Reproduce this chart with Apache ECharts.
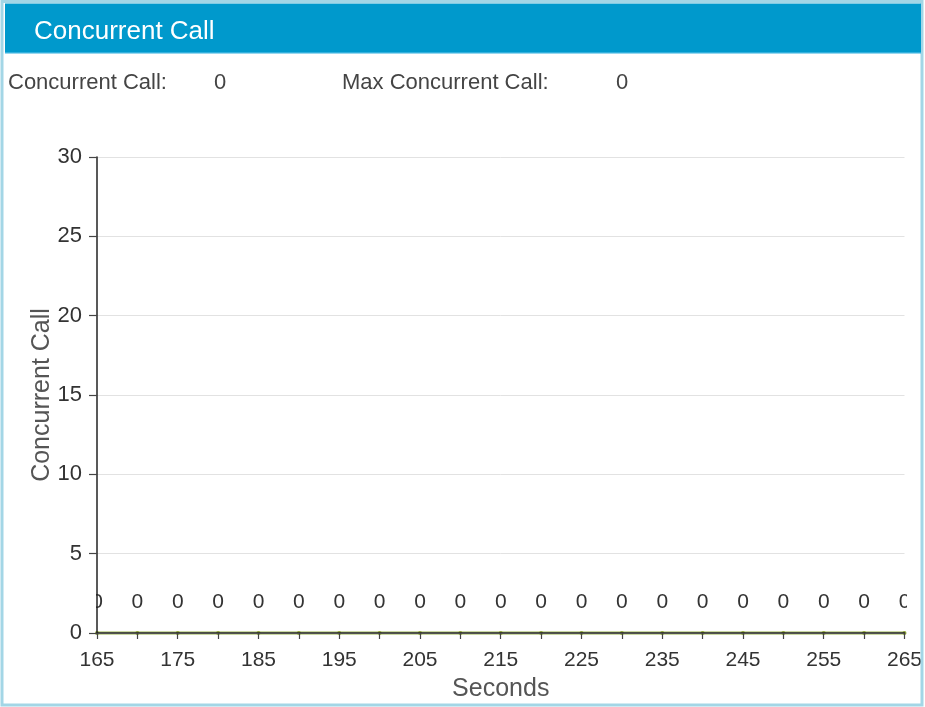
<!DOCTYPE html>
<html>
<head>
<meta charset="utf-8">
<script src="https://cdn.jsdelivr.net/npm/echarts@6/dist/echarts.min.js"></script>
<style>
html,body{margin:0;padding:0;background:#fff;}
#chart{width:925px;height:707px;}
</style>
</head>
<body>
<div id="chart"></div>
<script>
var headerTitle = 'Concurrent Call';
var infoLabels = ['Concurrent Call:', 'Max Concurrent Call:'];
var infoValues = ['0', '0'];
var seconds = [165, 170, 175, 180, 185, 190, 195, 200, 205, 210, 215, 220, 225, 230, 235, 240, 245, 250, 255, 260, 265];
var calls   = [0, 0, 0, 0, 0, 0, 0, 0, 0, 0, 0, 0, 0, 0, 0, 0, 0, 0, 0, 0, 0];
var yTicks = [0, 5, 10, 15, 20, 25, 30];
var xLabelTicks = [165, 175, 185, 195, 205, 215, 225, 235, 245, 255, 265];

var FONT = '"Liberation Sans", Arial, sans-serif';
var chart = echarts.init(document.getElementById('chart'));

var pts = seconds.map(function (s, i) { return [s, calls[i]]; });

chart.setOption({
  animation: false,
  backgroundColor: '#fff',
  textStyle: { fontFamily: FONT },
  grid: { left: 97, right: 19, top: 157, bottom: 73, containLabel: false },
  xAxis: {
    type: 'value',
    z: 6,
    min: seconds[0],
    max: seconds[seconds.length - 1],
    interval: 5,
    name: 'Seconds',
    nameLocation: 'middle',
    nameGap: 44,
    nameMoveOverlap: false,
    nameTextStyle: { fontSize: 25, color: '#555', fontFamily: FONT },
    axisLine: { show: true, onZero: false, lineStyle: { color: '#222', width: 1.5 } },
    axisTick: { show: true, length: 6, lineStyle: { color: '#444', width: 1.2 } },
    axisLabel: {
      margin: 17, fontSize: 21, color: '#333', fontFamily: FONT,
      formatter: function (v) { return xLabelTicks.indexOf(v) >= 0 ? String(v) : ''; }
    },
    splitLine: { show: false }
  },
  yAxis: {
    type: 'value',
    z: 6,
    min: yTicks[0],
    max: yTicks[yTicks.length - 1],
    interval: 5,
    name: 'Concurrent Call',
    nameLocation: 'middle',
    nameGap: 42,
    nameMoveOverlap: false,
    nameTextStyle: { fontSize: 25, color: '#555', fontFamily: FONT },
    axisLine: { show: true, lineStyle: { color: '#222', width: 1.5 } },
    axisTick: { show: true, length: 8, lineStyle: { color: '#444', width: 1.2 } },
    axisLabel: { margin: 15, fontSize: 22, color: '#333', fontFamily: FONT },
    splitLine: { show: true, lineStyle: { color: '#e2e2e2', width: 1 } }
  },
  series: [{
    type: 'line',
    data: pts,
    clip: true,
    z: 3,
    lineStyle: { color: '#cbd9a3', width: 4 },
    symbol: 'circle',
    symbolSize: 4,
    itemStyle: { color: '#8fa33a' },
    label: {
      show: true, position: 'top', distance: 18,
      fontSize: 21, color: '#333', fontFamily: FONT,
      formatter: function (p) { return String(p.value[1]); }
    }
  }],
  graphic: [
    // clip edge labels like the grid does
    { type: 'rect', z: 4, shape: { x: 80, y: 586, width: 16, height: 32 }, style: { fill: '#fff' } },
    { type: 'rect', z: 4, shape: { x: 907, y: 586, width: 13.5, height: 32 }, style: { fill: '#fff' } },
    // frame
    { type: 'rect', z: 101, shape: { x: 2, y: 1.5, width: 920, height: 703.5 }, style: { fill: 'none', stroke: '#a3d6e6', lineWidth: 3 } },
    // header
    { type: 'rect', z: 102, shape: { x: 5, y: 3.5, width: 916, height: 49.5 }, style: { fill: '#0099cc' } },
    { type: 'rect', z: 102, shape: { x: 5, y: 52, width: 916, height: 1.5 }, style: { fill: '#33b0dd' } },
    { type: 'text', z: 103, left: 34, top: 19, style: { text: headerTitle, fill: '#ffffff', font: '26px ' + FONT } },
    { type: 'text', z: 103, left: 8, top: 72, style: { text: infoLabels[0], fill: '#444', font: '22px ' + FONT } },
    { type: 'text', z: 103, left: 214, top: 72, style: { text: infoValues[0], fill: '#444', font: '22px ' + FONT } },
    { type: 'text', z: 103, left: 342, top: 72, style: { text: infoLabels[1], fill: '#444', font: '22px ' + FONT } },
    { type: 'text', z: 103, left: 616, top: 72, style: { text: infoValues[1], fill: '#444', font: '22px ' + FONT } }
  ]
});
</script>
</body>
</html>
